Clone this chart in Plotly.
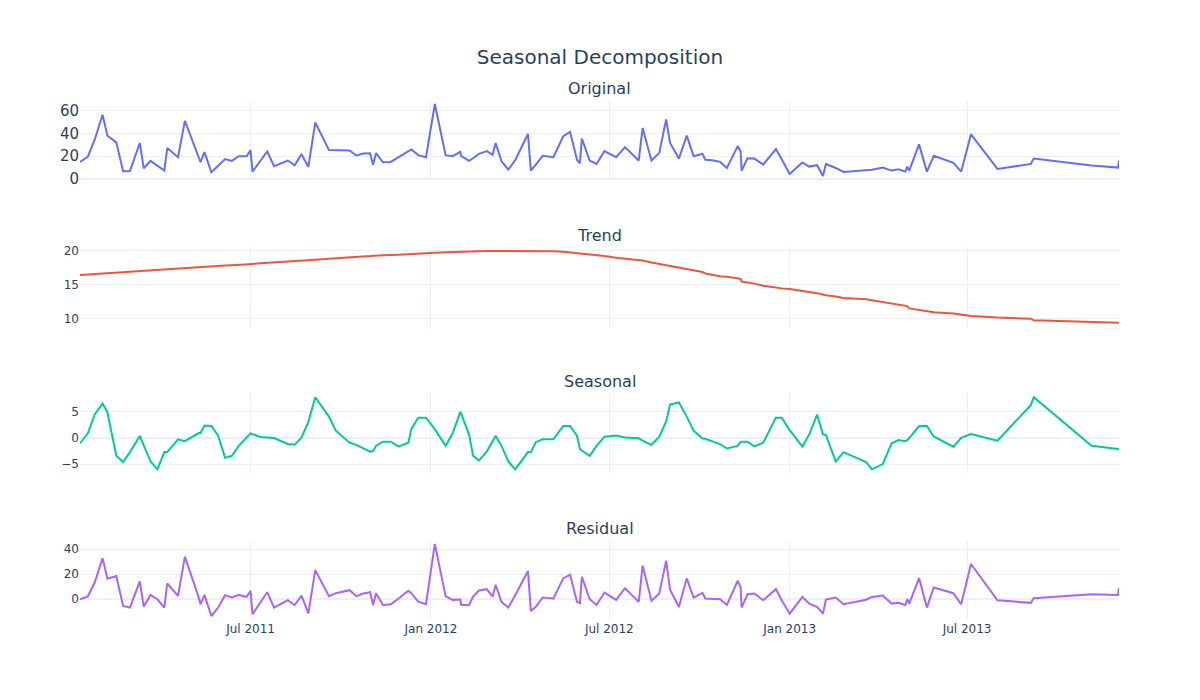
import plotly.graph_objects as go
from plotly.subplots import make_subplots

dates = [
    "2011-01-08", "2011-01-16", "2011-01-23", "2011-01-31", "2011-02-05", "2011-02-14",
    "2011-02-21", "2011-02-28", "2011-03-10", "2011-03-14", "2011-03-21", "2011-03-28",
    "2011-04-04", "2011-04-07", "2011-04-18", "2011-04-25", "2011-05-09", "2011-05-11",
    "2011-05-15", "2011-05-22", "2011-05-29", "2011-06-05", "2011-06-12", "2011-06-19",
    "2011-06-27", "2011-07-01", "2011-07-03", "2011-07-11", "2011-07-18", "2011-07-25",
    "2011-08-08", "2011-08-15", "2011-08-22", "2011-08-29", "2011-09-05", "2011-09-19",
    "2011-09-26", "2011-10-10", "2011-10-17", "2011-10-24", "2011-10-31", "2011-11-03",
    "2011-11-06", "2011-11-13", "2011-11-21", "2011-11-29", "2011-12-09", "2011-12-12",
    "2011-12-19", "2011-12-27", "2012-01-05", "2012-01-16", "2012-01-23", "2012-01-31",
    "2012-02-01", "2012-02-09", "2012-02-13", "2012-02-19", "2012-02-27", "2012-03-04",
    "2012-03-07", "2012-03-13", "2012-03-20", "2012-03-27", "2012-04-09", "2012-04-12",
    "2012-04-17", "2012-04-24", "2012-05-05", "2012-05-15", "2012-05-22", "2012-05-29",
    "2012-06-01", "2012-06-03", "2012-06-11", "2012-06-18", "2012-06-26", "2012-07-08",
    "2012-07-17", "2012-07-31", "2012-08-04", "2012-08-13", "2012-08-21", "2012-08-28",
    "2012-09-01", "2012-09-10", "2012-09-18", "2012-09-25", "2012-10-04", "2012-10-07",
    "2012-10-14", "2012-10-22", "2012-10-29", "2012-11-09", "2012-11-12", "2012-11-13",
    "2012-11-19", "2012-11-26", "2012-12-05", "2012-12-18", "2012-12-24", "2013-01-01",
    "2013-01-14", "2013-01-21", "2013-01-29", "2013-02-04", "2013-02-07", "2013-02-17",
    "2013-02-25", "2013-03-20", "2013-03-26", "2013-04-06", "2013-04-15", "2013-04-22",
    "2013-04-29", "2013-05-01", "2013-05-03", "2013-05-13", "2013-05-21", "2013-05-28",
    "2013-06-17", "2013-06-25", "2013-07-05", "2013-08-01", "2013-09-04", "2013-09-07",
    "2013-11-05", "2013-12-02", "2013-12-03",
]

original = [
    15.0, 19.7, 34.4, 56.2, 37.9, 32.1, 6.8, 7.1, 31.5, 9.4, 15.9, 11.5,
    7.4, 27.1, 19.1, 50.9, 20.0, 14.7, 23.5, 5.9, 11.6, 17.4, 15.9, 20.0,
    20.0, 25.3, 6.5, 15.7, 24.1, 11.2, 16.2, 12.1, 21.8, 10.6, 49.4, 25.3,
    25.3, 25.0, 20.6, 22.4, 22.6, 12.4, 22.6, 14.7, 15.0, 19.1, 24.4, 25.9,
    20.9, 19.1, 65.6, 20.9, 20.0, 23.8, 20.0, 15.9, 18.2, 22.0, 24.4, 21.2,
    31.5, 15.6, 8.2, 16.5, 39.4, 7.4, 12.6, 20.3, 19.1, 37.4, 41.2, 16.8,
    13.8, 35.3, 16.2, 13.2, 24.4, 19.1, 27.9, 16.2, 44.7, 16.2, 22.9, 52.1,
    31.5, 17.9, 37.9, 20.0, 22.1, 16.8, 16.5, 15.0, 9.7, 28.8, 24.1, 7.4,
    18.2, 17.9, 12.6, 26.2, 17.1, 4.4, 14.4, 10.9, 12.1, 2.6, 13.2, 9.7,
    6.2, 7.6, 8.2, 10.0, 7.4, 8.5, 6.5, 10.9, 7.4, 30.3, 6.5, 20.3,
    14.1, 6.5, 39.1, 8.8, 13.2, 17.9, 11.8, 10.0, 16.2,
]

trend = [
    16.45, 16.53, 16.6, 16.7, 16.75, 16.8, 16.9, 16.95, 17.05, 17.1, 17.15, 17.2,
    17.3, 17.3, 17.4, 17.45, 17.6, 17.6, 17.65, 17.7, 17.8, 17.85, 17.9, 18.0,
    18.05, 18.1, 18.1, 18.2, 18.25, 18.3, 18.45, 18.5, 18.6, 18.65, 18.7, 18.85,
    18.9, 19.05, 19.1, 19.2, 19.25, 19.3, 19.3, 19.35, 19.4, 19.45, 19.55, 19.55,
    19.6, 19.7, 19.75, 19.8, 19.85, 19.9, 19.9, 19.9, 19.95, 19.95, 20.0, 20.0,
    20.0, 20.0, 20.05, 20.05, 20.05, 20.05, 20.05, 20.0, 19.95, 19.9, 19.8, 19.7,
    19.6, 19.6, 19.5, 19.4, 19.25, 19.0, 18.9, 18.7, 18.6, 18.3, 18.1, 17.9,
    17.8, 17.6, 17.4, 17.2, 16.9, 16.7, 16.5, 16.3, 16.2, 16.0, 15.9, 15.5,
    15.4, 15.2, 14.9, 14.6, 14.5, 14.4, 14.15, 14.0, 13.8, 13.6, 13.5, 13.3,
    13.1, 12.9, 12.75, 12.5, 12.3, 12.1, 12.0, 11.9, 11.55, 11.3, 11.1, 11.0,
    10.8, 10.65, 10.45, 10.2, 10.05, 9.8, 9.55, 9.45, 9.45,
]

seasonal = [
    -1.0, 0.9, 4.5, 6.6, 4.9, -3.4, -4.6, -2.7, 0.4, -1.4, -4.5, -6.0,
    -2.7, -2.7, -0.25, -0.6, 0.95, 0.95, 2.4, 2.3, 0.45, -3.8, -3.4, -1.5,
    0.2, 0.9, 0.75, 0.2, 0.1, 0.0, -1.15, -1.3, 0.1, 3.1, 7.8, 4.1,
    1.4, -0.9, -1.3, -2.0, -2.6, -2.5, -1.5, -0.7, -0.7, -1.6, -0.9, 1.7,
    3.9, 3.9, 1.7, -1.5, 0.8, 5.0, 4.6, 0.6, -3.4, -4.3, -2.6, -0.6,
    0.45, -1.5, -4.5, -6.0, -2.7, -2.7, -0.8, -0.25, -0.25, 2.3, 2.3, 0.45,
    -2.1, -2.4, -3.4, -1.5, 0.25, 0.5, 0.1, -0.05, -0.5, -1.3, 0.25, 3.2,
    6.4, 6.8, 4.1, 1.4, -0.1, -0.15, -0.6, -1.15, -2.0, -1.5, -0.7, -0.7,
    -0.7, -1.6, -0.9, 3.9, 3.9, 1.5, -1.65, 0.7, 4.5, 0.7, 0.6, -4.5,
    -2.7, -4.6, -6.0, -5.0, -1.0, -0.4, -0.6, -0.4, 0.0, 2.3, 2.3, 0.3,
    -1.65, 0.05, 0.75, -0.5, 6.3, 7.8, -1.5, -2.1, -2.1,
]

residual = [
    -0.3, 1.9, 13.2, 32.7, 16.2, 18.4, -5.7, -7.0, 14.1, -6.2, 3.2, -0.3,
    -7.0, 12.4, 2.4, 34.1, 1.4, -4.3, 3.2, -13.8, -7.0, 3.0, 1.1, 3.2,
    1.6, 6.5, -12.4, -3.1, 5.4, -7.0, -1.1, -5.1, 2.7, -11.6, 23.2, 2.2,
    4.6, 7.0, 2.2, 4.3, 5.4, -4.9, 4.6, -4.9, -4.3, 0.3, 6.5, 4.6,
    -2.2, -4.3, 44.3, 2.2, -0.8, -0.5, -4.9, -4.9, 1.9, 6.8, 7.8, 1.9,
    11.4, -2.4, -7.0, 3.0, 22.4, -9.7, -6.4, 1.1, 0.3, 16.5, 19.5, -2.4,
    -3.5, 17.8, -0.3, -4.9, 5.1, -0.8, 8.6, -2.4, 26.8, -1.6, 4.3, 30.8,
    7.3, -6.5, 16.5, 1.1, 4.9, 0.3, 0.3, -0.3, -4.9, 14.6, 9.2, -7.0,
    3.8, 4.3, -1.1, 7.8, -1.3, -11.9, 1.6, -3.8, -6.5, -11.9, -0.5, 1.1,
    -4.3, -0.7, 1.6, 2.7, -3.8, -3.2, -4.9, -0.3, -3.8, 16.8, -7.0, 9.2,
    4.6, -4.3, 28.1, -1.1, -3.2, 0.5, 3.8, 3.2, 8.8,
]

panel_titles = ["Original", "Trend", "Seasonal", "Residual"]
series = [original, trend, seasonal, residual]
colors = ["#636EFA", "#EF553B", "#00CC96", "#AB63FA"]

FONT = "DejaVu Sans"

fig = make_subplots(rows=4, cols=1, shared_xaxes=True,
                    vertical_spacing=0.128, subplot_titles=panel_titles)

for i, (name, vals, col) in enumerate(zip(panel_titles, series, colors), start=1):
    fig.add_trace(go.Scatter(x=dates, y=vals, mode="lines", name=name,
                             line=dict(color=col, width=2)), row=i, col=1)

fig.update_annotations(font=dict(size=16, family=FONT))

fig.update_layout(
    template="plotly_white",
    width=1200, height=700,
    showlegend=False,
    font=dict(family=FONT, size=12),
    title=dict(text="Seasonal Decomposition", x=0.4933, xanchor="center",
               y=0.93, yanchor="middle", font=dict(size=20, family=FONT)),
    margin=dict(t=92, b=88, l=72, r=89),
)
fig.update_yaxes(tickfont=dict(size=15), row=1, col=1)
fig.update_yaxes(tickvals=[0, 20, 40], row=4, col=1)

fig.write_html("out.html")
